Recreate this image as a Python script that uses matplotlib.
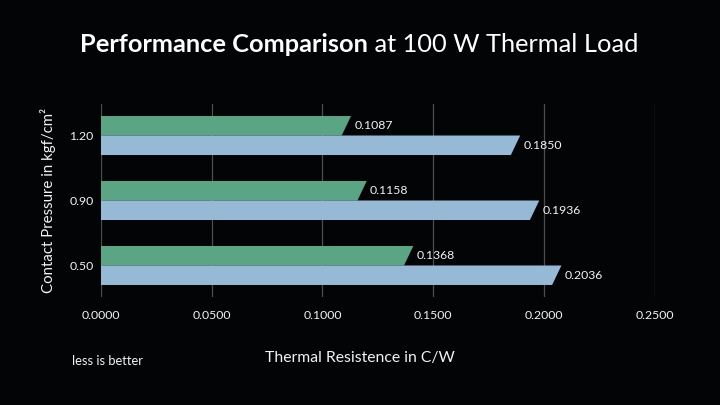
import numpy as np
import matplotlib
matplotlib.use('Agg')
import matplotlib.pyplot as plt
from matplotlib.patches import Polygon

plt.rcParams['font.family'] = ['Lato', 'DejaVu Sans']

pressure = ['0.50', '0.90', '1.20']
green_vals = [0.1368, 0.1158, 0.1087]
blue_vals = [0.2036, 0.1936, 0.1850]
xticks = [0.0, 0.05, 0.10, 0.15, 0.20, 0.25]

green = '#5aa584'
blue = '#96b9d5'
txt = '#f2f2f2'
bg = '#030405'

fig = plt.figure(figsize=(7.2, 4.05), dpi=100, facecolor=bg)
ax = fig.add_axes([100.7 / 720, 108 / 405, 554.3 / 720, 193 / 405])
ax.set_facecolor(bg)

h = 0.3
slant = 0.0042
y = np.arange(len(pressure))

def slanted_bar(v, y0, color):
    pts = [(0, y0), (v, y0), (v + slant, y0 + h), (0, y0 + h)]
    ax.add_patch(Polygon(pts, closed=True, facecolor=color, edgecolor='none', zorder=3))
    ax.text(v + slant + 0.0015, y0 + h / 2, f'{v:.4f}', color=txt, fontsize=8.8,
            va='center', ha='left', zorder=4)

for i in range(len(pressure)):
    slanted_bar(green_vals[i], y[i], green)
    slanted_bar(blue_vals[i], y[i] - h, blue)

ax.set_xlim(0, 0.25)
ax.set_ylim(-0.485, 2.485)
ax.set_xticks(xticks)
ax.set_xticklabels([f'{t:.4f}' for t in xticks])
ax.set_yticks(y)
ax.set_yticklabels(pressure)
ax.tick_params(axis='both', length=0, colors=txt, labelsize=8.8)
ax.tick_params(axis='x', pad=9.5)
ax.tick_params(axis='y', pad=5)
ax.grid(axis='x', color='#4d4d4d', linewidth=0.9, zorder=0)
ax.set_axisbelow(True)
for s in ax.spines.values():
    s.set_visible(False)

ax.set_ylabel('Contact Pressure in kgf/cm²', color=txt, fontsize=10.8, labelpad=10)
fig.text(360 / 720, 1 - 358 / 405, 'Thermal Resistence in C/W', color=txt,
         fontsize=11.3, ha='center', va='center')
fig.text(72 / 720, 1 - 361 / 405, 'less is better', color=txt, fontsize=9.3,
         ha='left', va='center')

# title: bold part + regular part, centred together
t1 = fig.text(0, 1 - 45 / 405, 'Performance Comparison', color='white', fontsize=18.3,
              fontweight='bold', ha='left', va='center')
t2 = fig.text(0, 1 - 45 / 405, ' at 100 W Thermal Load', color='white', fontsize=18.3,
              ha='left', va='center')
fig.canvas.draw()
r = fig.canvas.get_renderer()
w1 = t1.get_window_extent(r).width / 720
w2 = t2.get_window_extent(r).width / 720
x0 = 359 / 720 - (w1 + w2) / 2
t1.set_x(x0)
t2.set_x(x0 + w1)

fig.savefig('out.png', dpi=100, facecolor=bg)
